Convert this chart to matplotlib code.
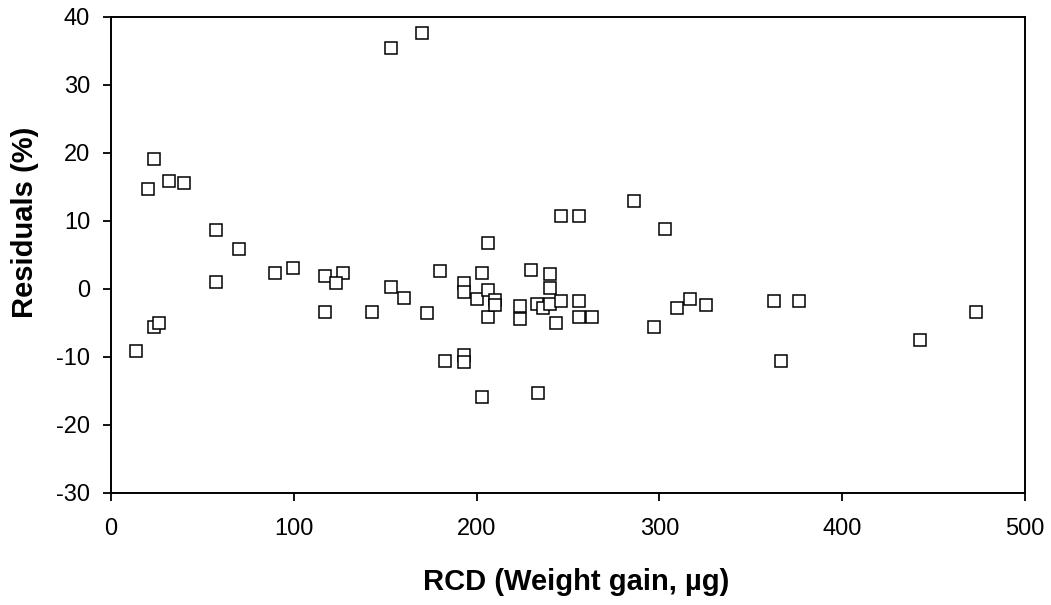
import matplotlib
matplotlib.use("Agg")
import matplotlib.pyplot as plt

plt.rcParams['font.family'] = ['Liberation Sans', 'DejaVu Sans']
plt.rcParams['axes.unicode_minus'] = False

# RCD weight gain (ug) and residuals (%)
rcd = [153, 170, 23.5, 20.1, 31.7, 39.8, 57.3, 69.8, 57.3, 89.5, 99.4,
       116.9, 126.7, 122.9, 153, 179.8, 192.9, 202.8, 206.1,
       13.5, 23.5, 26.1, 116.9, 142.6, 160.4, 172.7, 182.5, 192.9, 192.9,
       202.8, 192.9, 200.1, 206, 206,
       286.1, 246.2, 256, 303.1, 229.6, 240, 240, 210, 210, 223.7, 223.7,
       233.2, 236.1, 240.2, 246.2, 256, 243.3, 256, 263.1, 297, 309.5,
       316.7, 325.3, 233.6, 362.7, 376.4, 366.5, 442.6, 473.2]
residuals = [35.4, 37.6, 19.1, 14.7, 15.9, 15.6, 8.6, 5.9, 1.0, 2.35, 3.0,
             1.8, 2.3, 0.9, 0.3, 2.6, 0.9, 2.3, 6.7,
             -9.1, -5.6, -5.0, -3.4, -3.4, -1.4, -3.5, -10.6, -9.7, -10.8,
             -15.9, -0.5, -1.5, -0.2, -4.1,
             12.9, 10.7, 10.7, 8.8, 2.7, 2.1, 0.05, -1.7, -2.4, -2.6, -4.5,
             -2.2, -2.9, -2.2, -1.8, -1.8, -5.0, -4.1, -4.1, -5.6, -2.9,
             -1.5, -2.4, -15.4, -1.8, -1.8, -10.7, -7.5, -3.4]

xticks = [0, 100, 200, 300, 400, 500]
yticks = [-30, -20, -10, 0, 10, 20, 30, 40]

fig = plt.figure(figsize=(10.51, 6.05), dpi=100)
ax = fig.add_axes([0.1056, 0.1856, 0.8697, 0.7868])

ax.plot(rcd, residuals, linestyle='none', marker='s', markersize=8.5,
        markerfacecolor='white', markeredgecolor='black', markeredgewidth=1.1)

ax.set_xlim(0, 500)
ax.set_ylim(-30, 40)
ax.set_xticks(xticks)
ax.set_yticks(yticks)
ax.tick_params(direction='out', length=6, width=1.3, labelsize=17)
ax.tick_params(axis='x', pad=12)
ax.tick_params(axis='y', pad=9)
for s in ax.spines.values():
    s.set_linewidth(1.4)

ax.set_xlabel('RCD (Weight gain, µg)', fontsize=21, fontweight='bold')
ax.set_ylabel('Residuals (%)', fontsize=21, fontweight='bold')
ax.xaxis.set_label_coords(0.509, -0.158)
ax.yaxis.set_label_coords(-0.079, 0.567)

fig.savefig('out.png', dpi=100)
